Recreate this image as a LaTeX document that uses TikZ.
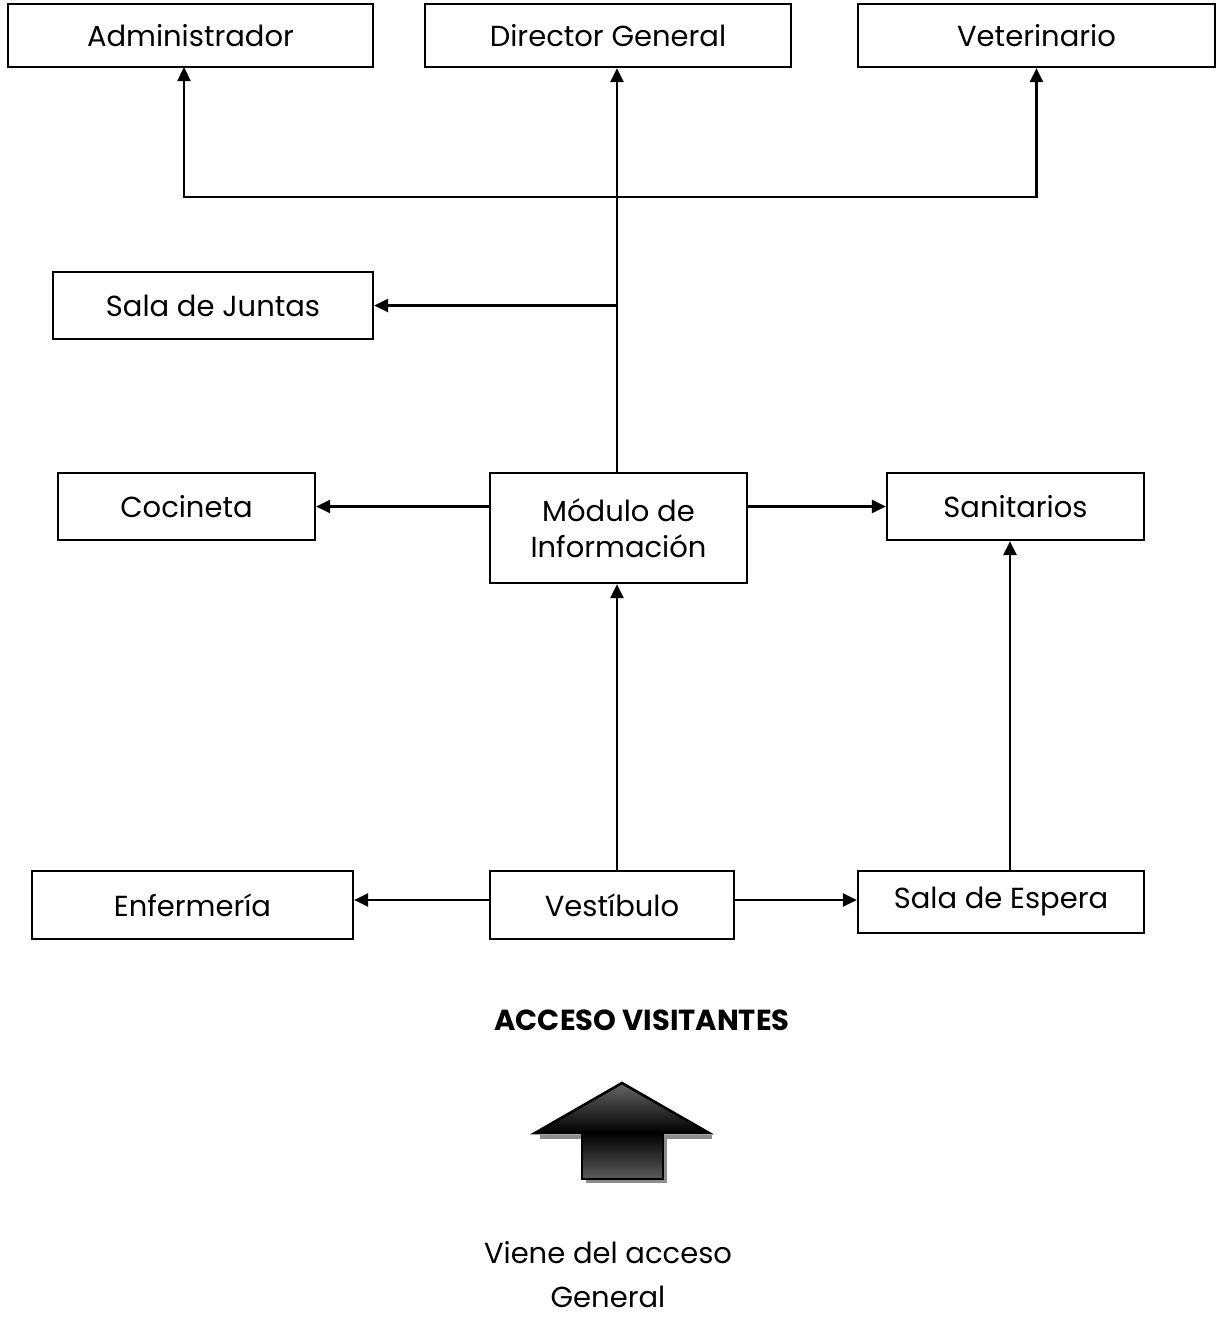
\documentclass[tikz,border=0pt]{standalone}
\usepackage{fontspec}
\setmainfont{Poppins}
\usetikzlibrary{arrows.meta}
\definecolor{arrGray}{HTML}{666666}
\definecolor{arrShadow}{HTML}{8C8C8C}
\tikzset{
  room/.style={draw=black, line width=1.1pt, inner sep=0pt, font=\fontsize{14.5}{18}\selectfont, align=center},
  link/.style={draw=black, line width=1.2pt, -{Triangle[length=7pt,width=6.5pt]}},
  plain link/.style={draw=black, line width=1.2pt},
  note/.style={font=\fontsize{14.5}{22}\selectfont, align=center, inner sep=0pt},
}
\begin{document}
\begin{tikzpicture}[x=0.5pt,y=-0.5pt]
  \useasboundingbox (0,0) rectangle (1217,1319);
  % top row
  \node[room, minimum width=182.5pt, minimum height=31.5pt] (admin) at (190.5,35.5) {Administrador};
  \node[room, minimum width=183pt, minimum height=31.5pt] (director) at (608,35.5) {Director General};
  \node[room, minimum width=178.5pt, minimum height=31.5pt] (veterinario) at (1036.5,35.5) {Veterinario};
  % middle
  \node[room, minimum width=160pt, minimum height=33.5pt] (juntas) at (213,305.5) {Sala de Juntas};
  \node[room, minimum width=128.5pt, minimum height=33.5pt] (cocineta) at (186.5,506.5) {Cocineta};
  \node[room, minimum width=128.5pt, minimum height=55pt] (modulo) at (618.5,528) {Módulo de\\Información};
  \node[room, minimum width=128.5pt, minimum height=33.5pt] (sanitarios) at (1015.5,506.5) {Sanitarios};
  % bottom row
  \node[room, minimum width=160.5pt, minimum height=34pt] (enfermeria) at (192.5,905) {Enfermería};
  \node[room, minimum width=122pt, minimum height=34pt] (vestibulo) at (612,905) {Vestíbulo};
  \node[room, minimum width=143pt, minimum height=31pt] (espera) at (1001,902) {Sala de Espera};
  % junction over the module
  \coordinate (hub) at (617,197);
  \draw[plain link] (modulo.north -| hub) -- (hub);
  \draw[link] (hub) -- (hub |- director.south);
  \draw[link] (hub) -| (184,67) coordinate (adminfoot);
  \draw[link] (hub) -| (veterinario.south);
  \draw[link] (hub |- juntas.east) -- (juntas.east);
  \draw[link] (modulo.west |- cocineta.east) -- (cocineta.east);
  \draw[link] (modulo.east |- sanitarios.west) -- (sanitarios.west);
  \draw[link] (hub |- vestibulo.north) -- (hub |- modulo.south);
  \draw[link] (vestibulo.west |- 0,900) -- (enfermeria.east |- 0,900);
  \draw[link] (vestibulo.east |- 0,900) -- (espera.west |- 0,900);
  \draw[link] (espera.north -| 1010,0) -- (sanitarios.south -| 1010,0);
  % visitors access
  \node[note, font=\fontsize{14.5}{23}\selectfont\bfseries] (acceso) at (642,1020) {ACCESO VISITANTES};
  \fill[arrShadow] (586,1137) rectangle (667,1183);
  \fill[arrShadow] (540,1135) rectangle (712,1139);
  \shade[top color=arrGray, bottom color=black, draw=black, line width=1.3pt] (622,1083) -- (709,1133) -- (535,1133) -- cycle;
  \shade[top color=black, bottom color=arrGray!90!black, draw=black, line width=1.3pt] (582,1133) rectangle (663,1179);
  \node[note] (viene) at (608,1275) {Viene del acceso\\General};
\end{tikzpicture}
\end{document}
